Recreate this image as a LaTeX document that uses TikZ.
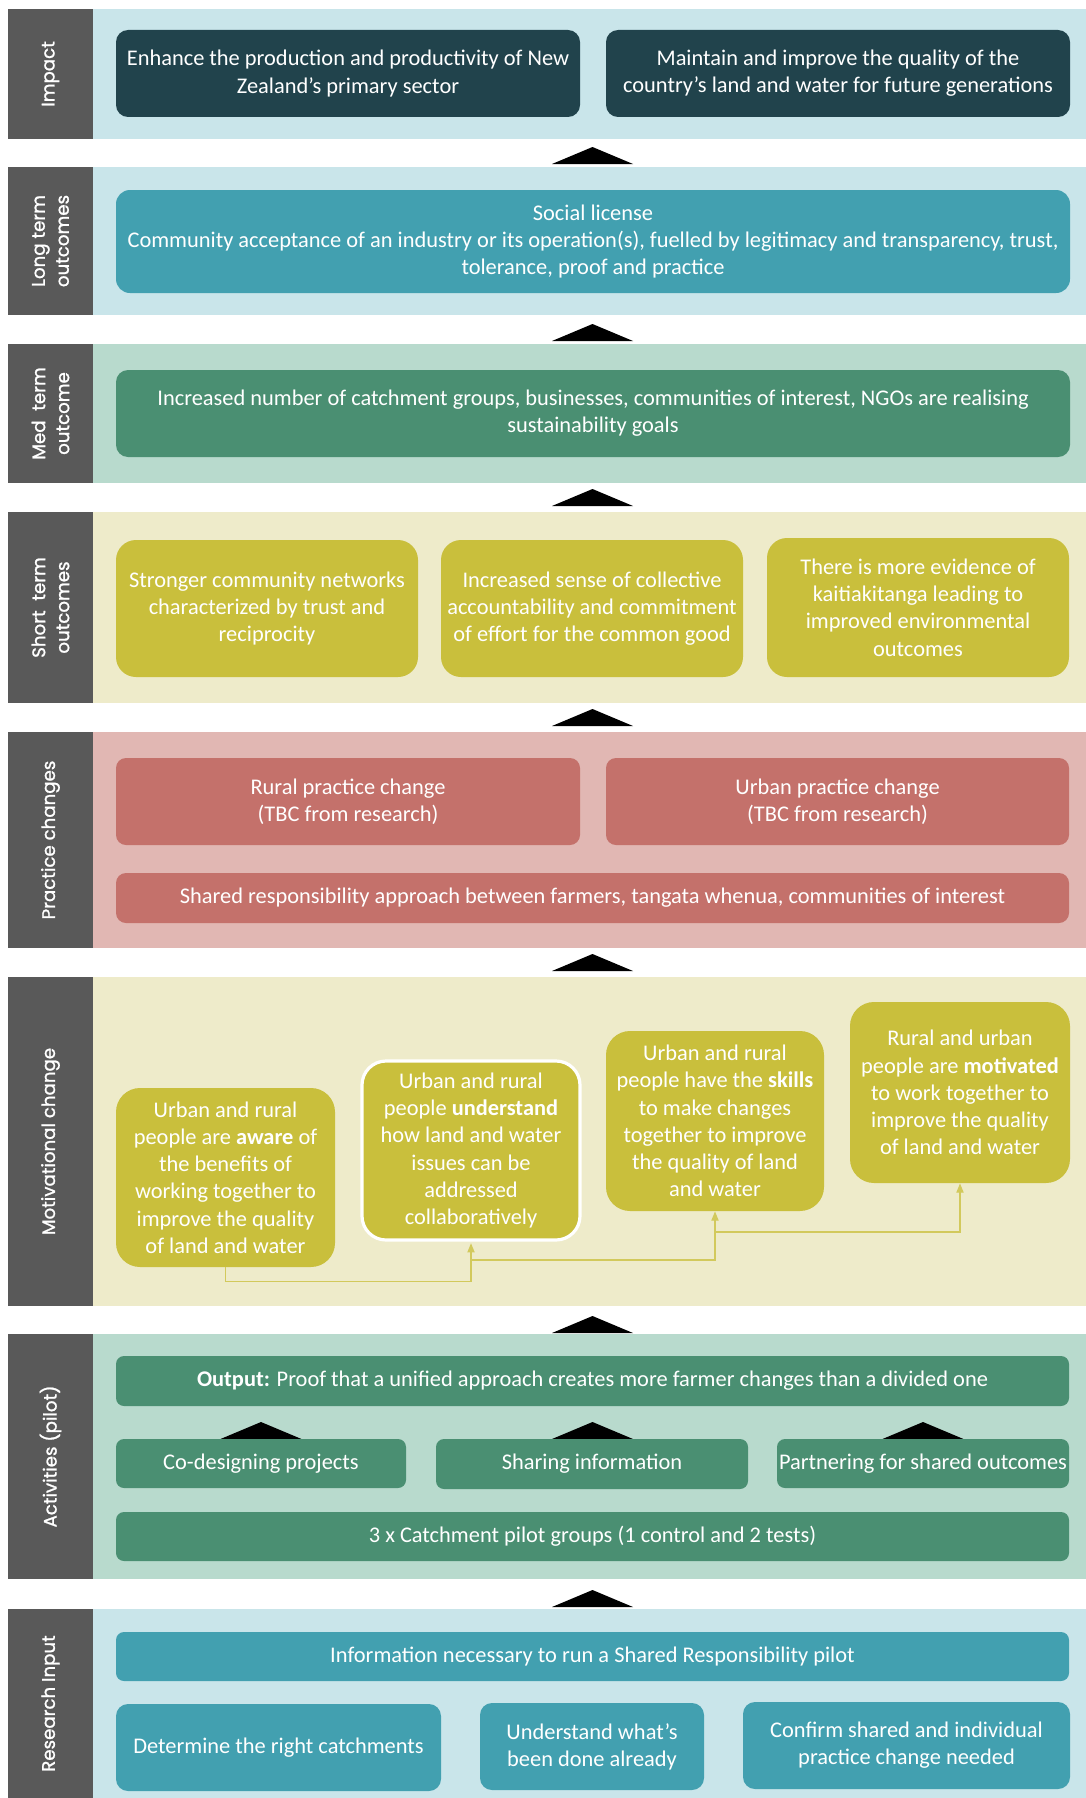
\documentclass[tikz,border=0pt]{standalone}
\usepackage{fontspec}
\setmainfont{Carlito}
\newfontfamily\labelfont[FakeBold=1.2]{Poppins}
\usetikzlibrary{arrows.meta}
\definecolor{sidec}{HTML}{595959}
\definecolor{bgblue}{HTML}{C9E5EA}
\definecolor{bggreen}{HTML}{B8DACD}
\definecolor{bgyellow}{HTML}{EEEBCA}
\definecolor{bgred}{HTML}{E1B7B3}
\definecolor{cdark}{HTML}{21434C}
\definecolor{cteal}{HTML}{42A0B0}
\definecolor{cgreen}{HTML}{4A8F72}
\definecolor{colive}{HTML}{C9BF3C}
\definecolor{cred}{HTML}{C4716B}
\definecolor{cline}{HTML}{D2C95C}
\tikzset{
  bandbg/.style={fill=#1,draw=none},
  sidebox/.style={fill=sidec,draw=none},
  sidelab/.style={rotate=90,text=white,align=center,inner sep=0pt,
    font=\labelfont\fontsize{9.1}{12}\selectfont},
  box/.style={inner sep=0pt,text=white,align=center,
    font=\fontsize{11.2}{13.6}\selectfont,fill=#1,draw=none},
  conn/.style={draw=cline,line width=0.6pt,-{Triangle[width=3.6pt,length=4.6pt]}},
}
\newcommand\tri[2]{\fill[black] (#1-40.5,#2+17) -- (#1,#2) -- (#1+40.5,#2+17) -- cycle;}
\newcommand\band[4]{% y1,y2,color,label
  \fill[bandbg=#3] (93,#1) rectangle (1086,#2);
  \fill[sidebox] (8,#1) rectangle (93,#2);
  \node[sidelab] at (50.5,{(#1+#2)/2}) {#4};}
% name, x1, y1, x2, y2, style, text
\newcommand\bx[7]{%
  \node[#6, minimum width={(#4-#2)*0.5pt}, minimum height={(#5-#3)*0.5pt}]
    (#1) at ({(#2+#4)/2},{(#3+#5)/2}) {#7};}
\begin{document}
\begin{tikzpicture}[x=0.5pt,y=-0.5pt]
\useasboundingbox (0,0) rectangle (1086,1798);
\fill[white] (0,0) rectangle (1086,1798);
% bands
\band{9}{139}{bgblue}{Impact}
\band{167}{315}{bgblue}{Long term\\outcomes}
\band{344}{483}{bggreen}{Med\ \ term\\outcome}
\band{512}{703}{bgyellow}{Short\ \ term\\outcomes}
\band{732}{948}{bgred}{Practice changes}
\band{977}{1306}{bgyellow}{Motivational change}
\band{1334}{1579}{bggreen}{Activities (pilot)}
\band{1609}{1798}{bgblue}{Research Input}
% arrows between bands
\tri{592.5}{147}
\tri{592.5}{324}
\tri{592.5}{489}
\tri{592.5}{709}
\tri{592.5}{954}
\tri{592.5}{1316}
\tri{592.5}{1590}
\tri{261}{1422}
\tri{592.5}{1422}
\tri{923}{1422}
% Impact
\bx{imp1}{116}{30}{580}{117}{box=cdark,rounded corners=6pt}{Enhance the production and productivity of New\\Zealand’s primary sector}
\bx{imp2}{606}{30}{1070}{117}{box=cdark,rounded corners=6pt}{Maintain and improve the quality of the\\country’s land and water for future generations}
% Long term
\bx{lt}{116}{190}{1070}{293}{box=cteal,rounded corners=7pt}{Social license\\Community acceptance of an industry or its operation(s), fuelled by legitimacy and transparency, trust,\\tolerance, proof and practice}
% Med term
\bx{md}{116}{370}{1070}{457}{box=cgreen,rounded corners=6pt}{Increased number of catchment groups, businesses, communities of interest, NGOs are realising\\sustainability goals}
% Short term
\bx{st1}{116}{540}{418}{677}{box=colive,rounded corners=10pt}{Stronger community networks\\characterized by trust and\\reciprocity}
\bx{st2}{441}{540}{743}{677}{box=colive,rounded corners=10pt}{Increased sense of collective\\accountability and commitment\\of effort for the common good}
\bx{st3}{767}{538}{1069}{677}{box=colive,rounded corners=10pt}{There is more evidence of\\kaitiakitanga leading to\\improved environmental\\outcomes}
% Practice
\bx{pr1}{116}{758}{580}{845}{box=cred,rounded corners=5pt}{Rural practice change\\(TBC from research)}
\bx{pr2}{606}{758}{1069}{845}{box=cred,rounded corners=5pt}{Urban practice change\\(TBC from research)}
\bx{pr3}{116}{873}{1069}{923}{box=cred,rounded corners=5pt}{Shared responsibility approach between farmers, tangata whenua, communities of interest}
% Motivational
\bx{m1}{116}{1088}{335}{1267}{box=colive,rounded corners=12pt}{Urban and rural\\people are \textbf{aware} of\\the benefits of\\working together to\\improve the quality\\of land and water}
\bx{m2}{362}{1061}{580}{1240}{box=colive,rounded corners=12pt,draw=white,line width=1.6pt}{Urban and rural\\people \textbf{understand}\\how land and water\\issues can be\\addressed\\collaboratively}
\bx{m3}{606}{1031}{824}{1211}{box=colive,rounded corners=12pt}{Urban and rural\\people have the \textbf{skills}\\to make changes\\together to improve\\the quality of land\\and water}
\bx{m4}{850}{1002}{1070}{1183}{box=colive,rounded corners=12pt}{Rural and urban\\people are \textbf{motivated}\\to work together to\\improve the quality\\of land and water}
\coordinate (c2) at (471,1260);
\coordinate (c3) at (715,1232);
\draw[conn] (m1.south) -- ++(0,14) -| ([yshift=-0.8pt]m2.south);
\draw[conn] (c2) -| (m3.south);
\draw[conn] (c3) -| (m4.south);
% Activities
\bx{ac0}{116}{1356}{1069}{1406}{box=cgreen,rounded corners=4pt}{\textbf{Output:} Proof that a unified approach creates more farmer changes than a divided one}
\bx{ac1}{116}{1439}{406}{1488}{box=cgreen,rounded corners=4pt}{Co-designing projects}
\bx{ac2}{436}{1439}{748}{1489}{box=cgreen,rounded corners=4pt}{Sharing information}
\bx{ac3}{777}{1439}{1069}{1488}{box=cgreen,rounded corners=4pt}{Partnering for shared outcomes}
\bx{ac4}{116}{1512}{1069}{1561}{box=cgreen,rounded corners=4pt}{3 x Catchment pilot groups (1 control and 2 tests)}
% Research
\bx{r0}{116}{1632}{1069}{1681}{box=cteal,rounded corners=4pt}{Information necessary to run a Shared Responsibility pilot}
\bx{r1}{116}{1704}{441}{1791}{box=cteal,rounded corners=6pt}{Determine the right catchments}
\bx{r2}{480}{1703}{704}{1790}{box=cteal,rounded corners=6pt}{Understand what’s\\been done already}
\bx{r3}{743}{1702}{1070}{1789}{box=cteal,rounded corners=6pt}{Confirm shared and individual\\practice change needed}
\end{tikzpicture}
\end{document}
